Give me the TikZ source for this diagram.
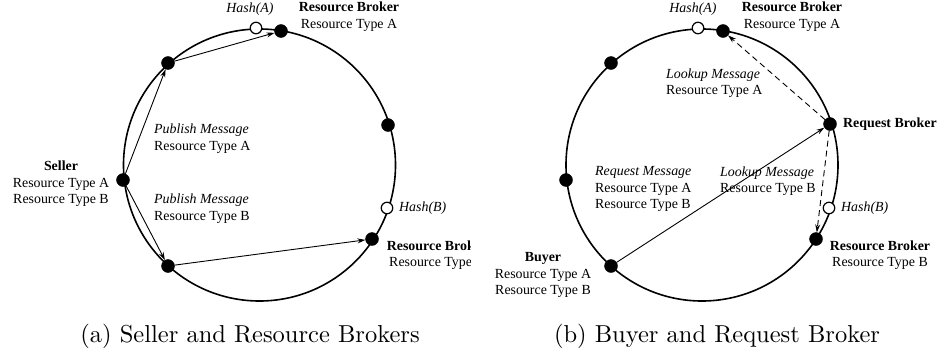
\documentclass[tikz,border=0pt]{standalone}
\usepackage{fontspec}
\newfontfamily\tnr{Liberation Serif}
\usetikzlibrary{arrows.meta}
\begin{document}
\begin{tikzpicture}[x=1pt,y=-1pt,
  ring/.style={line width=1.6pt},
  bdot/.style={circle,fill=black,draw=black,inner sep=0pt,minimum size=13pt},
  wdot/.style={circle,fill=white,draw=black,line width=1.2pt,inner sep=0pt,minimum size=11.5pt},
  lbl/.style={font=\tnr\fontsize{13.9}{16.5}\selectfont,inner sep=0pt},
  arr/.style={line width=0.9pt,-{Stealth[length=8pt,width=5pt]}},
  darr/.style={arr,dash pattern=on 6pt off 4pt},
  captext/.style={font=\fontsize{10}{12}\selectfont,inner sep=0pt,scale=2.45}]
\useasboundingbox (0,0) rectangle (940,351);
% ---------- panel (a) ----------
\draw[ring] (259.5,165) circle (136);
\node[wdot] (ha) at (256,28) {};
\node[bdot] (rba) at (281,31) {};
\node[bdot] (a1) at (168,63) {};
\node[bdot] (a2) at (388,125) {};
\node[bdot] (seller) at (123,180) {};
\node[wdot] (hb) at (387,208) {};
\node[bdot] (rbb) at (372,239) {};
\node[bdot] (a3) at (168,266) {};
\draw[arr] (seller) -- (a1);
\draw[arr] (a1) -- (rba);
\draw[arr] (seller) -- (a3);
\draw[arr] (a3) -- (rbb);
\node[lbl] (tha) at (250,9) {\itshape Hash(A)};
\node[lbl,align=center] (trba) at (349,16.5) {\bfseries Resource Broker\\Resource Type A};
\node[lbl,align=left,anchor=west] (tpa) at (154,138.5) {\itshape Publish Message\\Resource Type A};
\node[lbl,align=center] (tsel) at (61,184) {\bfseries Seller\\Resource Type A\\Resource Type B};
\node[lbl,align=left,anchor=west] (tpb) at (154,208.5) {\itshape Publish Message\\Resource Type B};
\node[lbl,anchor=west] (thb) at (399,208) {\itshape Hash(B)};
\begin{scope}
\clip (0,0) rectangle (470,351);
\node[lbl,align=center] (trbb) at (437,255) {\bfseries Resource Broker\\Resource Type B};
\end{scope}
\node[captext] (capa) at (250,336) {(a) Seller and Resource Brokers};
% ---------- panel (b) ----------
\draw[ring] (702,165) circle (136);
\node[wdot] (hA) at (698,28) {};
\node[bdot] (rbA) at (723,31) {};
\node[bdot] (b1) at (611,63) {};
\node[bdot] (req) at (830,124) {};
\node[bdot] (b2) at (566,180) {};
\node[wdot] (hB) at (829,208) {};
\node[bdot] (rbB) at (816,239) {};
\node[bdot] (buyer) at (611,266) {};
\draw[arr] (buyer) -- (req);
\draw[darr] (req) -- (rbA);
\draw[darr] (req) -- (rbB);
\node[lbl] (thA) at (693,9) {\itshape Hash(A)};
\node[lbl,align=center] (trbA) at (792,16.5) {\bfseries Resource Broker\\Resource Type A};
\node[lbl,align=left,anchor=west] (tla) at (666,83) {\itshape Lookup Message\\Resource Type A};
\node[lbl,anchor=west] (treq) at (843,124) {\bfseries Request Broker};
\node[lbl,align=left,anchor=west] (trm) at (595,189) {\itshape Request Message\\Resource Type A\\Resource Type B};
\node[lbl,align=left,anchor=west] (tlb) at (720,181) {\itshape Lookup Message\\Resource Type B};
\node[lbl,anchor=west] (thB) at (841,208) {\itshape Hash(B)};
\node[lbl,align=center] (trbB) at (880,255) {\bfseries Resource Broker\\Resource Type B};
\node[lbl,align=center] (tbuy) at (543,275) {\bfseries Buyer\\Resource Type A\\Resource Type B};
\node[captext] (capb) at (717,336) {(b) Buyer and Request Broker};
\end{tikzpicture}
\end{document}
